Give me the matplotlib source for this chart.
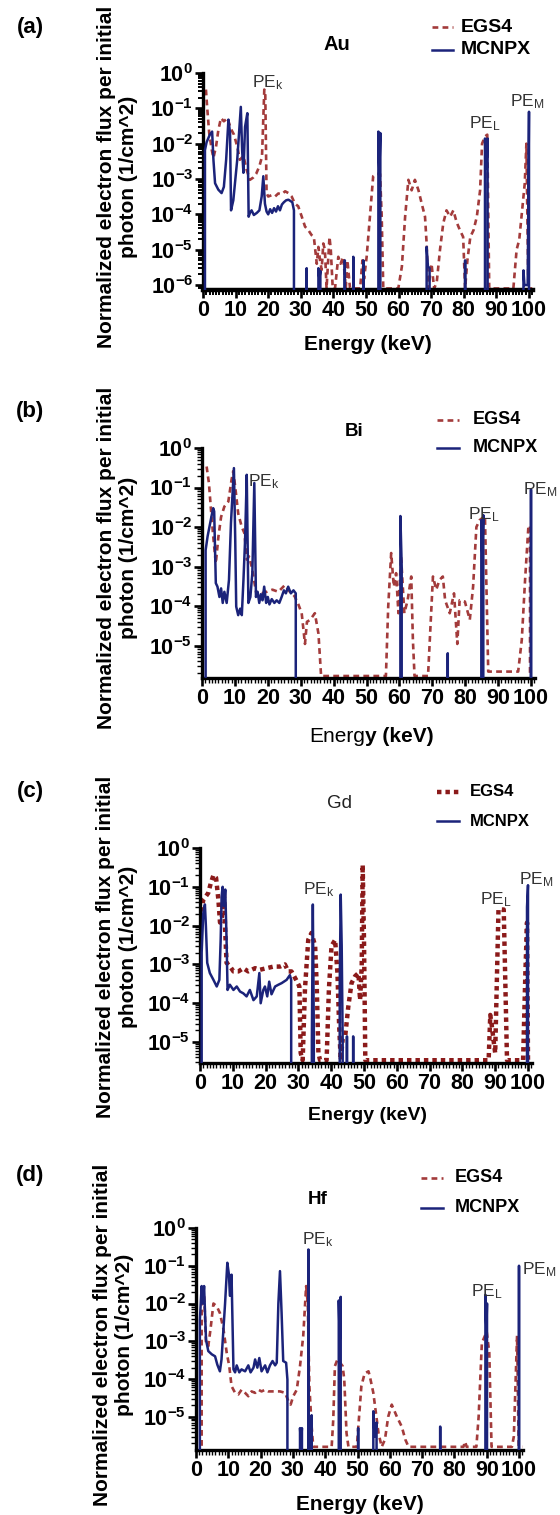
import numpy as np
import matplotlib
matplotlib.use('Agg')
import matplotlib.pyplot as plt
from matplotlib.lines import Line2D
from matplotlib.ticker import MultipleLocator, FixedLocator, LogLocator, FuncFormatter, NullFormatter

plt.rcParams['font.family'] = ['Liberation Sans', 'DejaVu Sans']
plt.rcParams['mathtext.fontset'] = 'custom'
plt.rcParams['mathtext.rm'] = 'Liberation Sans'
plt.rcParams['mathtext.it'] = 'Liberation Sans'
plt.rcParams['mathtext.bf'] = 'Liberation Sans:bold'

# ---------------- data (energy keV, flux 1/cm^2 per photon; 0 = no flux) ----------------
X_TICKS = list(range(0, 101, 10))
SERIES_LABELS = ['EGS4', 'MCNPX']
PANEL_LABELS = ['(a)', '(b)', '(c)', '(d)']
ELEMENTS = ['Au', 'Bi', 'Gd', 'Hf']

AU_EGS4 = np.array([
    (0.9, 0.34), (1.3, 0.1), (1.9, 2e-2), (2.7, 6.6e-3), (3.2, 4e-3), (4.0, 8.3e-3), (4.7, 2.4e-2),
    (5.5, 5.3e-2), (6.4, 4.3e-2), (7.5, 5.3e-2), (8.5, 2.7e-2), (9.5, 1.8e-2), (10.5, 8.3e-3),
    (11.3, 3.5e-3), (12.4, 4.5e-3), (13.4, 1.8e-3), (14.4, 9.5e-4), (15.4, 1.1e-3), (16.3, 1.4e-3),
    (17.3, 2.3e-3), (18.1, 4.3e-3), (18.8, 0.34), (19.1, 0.27), (19.5, 4e-4), (20.0, 3.2e-4),
    (21.1, 3.5e-4), (22.1, 3.2e-4), (23.1, 3.9e-4), (24.1, 3.7e-4), (25.2, 4.5e-4), (26.2, 4e-4),
    (27.2, 3.2e-4), (28.2, 2e-4), (29.2, 1.7e-4), (30.3, 8.6e-5), (31.3, 4.5e-5), (32.3, 3.6e-5),
    (33.3, 2.6e-5), (34.0, 2.3e-5), (34.9, 4e-6), (35.4, 1.2e-5), (35.9, 5e-6), (36.4, 2.7e-6),
    (36.9, 1.5e-5), (37.4, 1e-5), (37.9, 8e-7), (38.8, 2.3e-5), (39.2, 1e-5), (39.8, 8e-7),
    (40.5, 8e-7), (41.5, 6.3e-6), (42.2, 4e-6), (43.0, 6.3e-6), (43.8, 8e-7), (44.3, 5e-6),
    (45.1, 8e-7), (48.2, 8e-7), (48.9, 5e-6), (49.4, 1.5e-6), (50.2, 6.3e-6), (51.2, 8.6e-5),
    (52.2, 1.2e-3), (53.3, 1.4e-3), (54.3, 1.4e-3), (54.8, 1e-4), (55.3, 8e-7), (59.9, 8e-7),
    (61.0, 3.3e-6), (62.0, 8.6e-5), (63.0, 9.5e-4), (64.0, 4.8e-4), (65.0, 9.5e-4), (66.1, 4.8e-4),
    (67.1, 2e-4), (68.1, 8.6e-5), (68.6, 1.5e-5), (69.1, 8e-7), (70.1, 4e-6), (70.9, 8e-7),
    (71.7, 1.2e-6), (72.7, 1e-5), (73.7, 5.6e-5), (74.7, 1.3e-4), (75.8, 8.6e-5), (76.8, 1.3e-4),
    (77.8, 6e-5), (78.8, 3.6e-5), (79.8, 2.3e-5), (80.4, 8e-7), (81.1, 5e-6), (82.0, 2.3e-5),
    (83.0, 3.6e-5), (84.0, 8.6e-5), (85.0, 4.8e-4), (85.6, 1e-2), (86.5, 1.6e-2), (87.2, 1.8e-2),
    (87.8, 8e-7), (95.2, 8e-7), (96.2, 1e-5), (97.0, 1.9e-5), (97.7, 8.6e-5), (98.7, 7.6e-4),
    (99.2, 1e-2), (99.8, 8e-7), (101.0, 8e-7)])

AU_MCNPX = np.array([
    (0.4, 0), (0.6, 6.6e-3), (1.1, 1.1e-2), (2.1, 1.8e-2), (2.8, 2.2e-2), (3.2, 3.5e-3), (3.7, 7.6e-4),
    (4.7, 5e-4), (5.7, 4e-4), (6.4, 6e-4), (7.1, 3.5e-3), (7.8, 4.8e-2), (8.3, 2e-2), (8.6, 1.3e-4),
    (9.3, 2.5e-4), (10.5, 3.5e-3), (11.6, 0.11), (12.0, 6.6e-3), (12.4, 1.5e-3), (12.9, 3e-2),
    (13.6, 7.3e-2), (14.0, 8.6e-5), (14.4, 1.1e-4), (14.9, 1.3e-4), (15.6, 9.6e-5), (16.5, 1.1e-4),
    (17.3, 1.3e-4), (18.0, 3.2e-4), (18.5, 1.2e-3), (19.0, 2e-4), (19.5, 1.2e-4), (20.0, 1e-4),
    (20.6, 1.4e-4), (21.2, 1.1e-4), (21.8, 1.5e-4), (22.4, 1.2e-4), (23.0, 1.7e-4), (23.6, 1.3e-4),
    (24.2, 1.9e-4), (24.8, 2.2e-4), (25.5, 2.5e-4), (26.2, 2.6e-4), (26.8, 2.4e-4), (27.4, 2.2e-4),
    (27.9, 1.3e-4), (28.4, 0), (31.5, 0), (31.8, 3e-6), (32.1, 0), (35.1, 0), (35.4, 3e-6),
    (35.7, 1.5e-6), (36.0, 2.5e-6), (36.3, 0), (43.2, 0), (43.5, 5e-6), (43.8, 0), (45.8, 0),
    (46.1, 6.3e-6), (46.4, 0), (48.9, 0), (49.2, 5e-6), (49.5, 0), (53.3, 0), (53.8, 2.2e-2),
    (54.1, 1.5e-3), (54.4, 2e-2), (54.8, 0), (68.3, 0), (68.6, 1.2e-5), (69.0, 3.4e-6),
    (69.5, 3e-6), (70.0, 0), (80.1, 0), (80.4, 5e-6), (80.7, 0), (86.0, 0), (86.5, 1.4e-2),
    (86.9, 2e-3), (87.3, 1.4e-2), (87.7, 0), (98.0, 0), (98.3, 2.6e-6), (98.6, 1e-6),
    (99.6, 1e-6), (100.0, 8e-2), (100.3, 0)])

BI_EGS4 = np.array([
    (1.4, 0.34), (2.1, 0.13), (2.9, 1.8e-2), (3.5, 4.8e-3), (4.2, 1.2e-3), (5.0, 5.8e-3), (5.8, 1.8e-2),
    (6.8, 3.3e-2), (8.0, 4.4e-2), (9.0, 0.16), (9.5, 0.26), (10.2, 8.8e-2), (11.0, 2.2e-2),
    (12.1, 1e-2), (12.9, 7e-3), (13.6, 1.5e-3), (14.3, 1.8e-3), (15.1, 1e-3), (15.8, 4.6e-4),
    (16.6, 1.9e-4), (18.1, 2.1e-4), (19.7, 2.3e-4), (21.4, 2.6e-4), (23.2, 2.3e-4), (25.2, 3.4e-4),
    (26.7, 2.3e-4), (28.1, 1.8e-4), (29.3, 1.1e-4), (30.3, 6.6e-5), (31.3, 1.1e-5), (31.9, 4e-5),
    (32.9, 4.5e-5), (34.3, 6.6e-5), (35.4, 2e-5), (36.2, 1.7e-6), (55.9, 1.7e-6), (56.6, 9.7e-5),
    (57.5, 2.2e-3), (58.3, 3.1e-4), (59.0, 6.8e-4), (59.7, 6.6e-5), (60.5, 1.8e-3), (61.5, 6.6e-5),
    (62.5, 1.4e-4), (63.6, 5.6e-4), (64.1, 1.4e-5), (64.6, 1.7e-6), (68.7, 1.7e-6), (70.2, 5.6e-4),
    (71.2, 2.6e-4), (72.2, 4.6e-4), (73.2, 5.6e-4), (73.9, 1.4e-4), (75.3, 6.6e-5), (76.6, 2.1e-4),
    (77.6, 1.1e-5), (78.3, 1.4e-4), (79.9, 1.3e-4), (81.4, 4.5e-5), (82.4, 3.1e-4), (83.4, 1e-2),
    (84.4, 1.5e-2), (86.0, 1.9e-2), (87.0, 2.2e-6), (96.1, 2.2e-6), (97.2, 1.4e-5), (98.2, 4.6e-4),
    (99.2, 1e-2), (99.7, 1.1e-2), (100.0, 0)])

BI_MCNPX = np.array([
    (0.7, 0), (1.1, 2.6e-3), (1.7, 5.8e-3), (2.9, 1.9e-2), (3.4, 3e-2), (3.7, 2.5e-2), (4.2, 3.8e-4),
    (4.7, 3.1e-4), (5.3, 1.7e-4), (5.8, 2.8e-4), (6.3, 1.2e-4), (6.8, 2.3e-4), (7.5, 1.2e-4),
    (8.2, 4.6e-4), (8.8, 1.25e-2), (9.7, 0.31), (10.1, 4.8e-3), (10.4, 9.7e-5), (11.0, 5.9e-5),
    (11.6, 8.6e-5), (12.1, 5.9e-5), (12.6, 4.6e-4), (13.1, 4.8e-3), (13.6, 0.21), (14.1, 1.2e-4),
    (14.7, 1.7e-4), (15.3, 6.8e-4), (15.9, 0.13), (16.4, 1.7e-4), (16.9, 2.3e-4), (17.4, 1.2e-4),
    (17.9, 2e-4), (18.4, 1.4e-4), (18.9, 3.1e-4), (19.5, 1.2e-4), (20.0, 1.7e-4), (20.5, 1.1e-4),
    (21.2, 1.5e-4), (22.0, 1.2e-4), (22.7, 1.4e-4), (23.5, 1.2e-4), (24.2, 1.7e-4), (24.9, 2.5e-4),
    (25.5, 2.1e-4), (26.2, 3.1e-4), (27.0, 2.1e-4), (27.8, 2.5e-4), (28.5, 2.1e-4), (28.8, 0),
    (59.8, 0), (60.3, 1.9e-2), (60.7, 1e-3), (61.0, 0), (74.4, 0), (74.7, 6.4e-6), (75.0, 0),
    (84.6, 0), (84.9, 1.5e-2), (85.2, 2e-3), (85.5, 2e-2), (85.8, 0), (99.7, 0), (100.0, 9e-2),
    (100.2, 0)])

GD_EGS4 = np.array([
    (0.5, 2.3e-2), (1.0, 4.7e-2), (1.8, 5.7e-2), (2.5, 6.9e-2), (3.3, 0.125), (4.1, 0.2), (4.9, 0.17),
    (5.6, 4.7e-2), (6.1, 1.2e-2), (6.7, 1.7e-2), (7.3, 6.9e-2), (7.7, 6.5e-3), (8.1, 1.1e-3),
    (9.1, 9e-4), (10.2, 6.6e-4), (11.7, 6.6e-4), (13.2, 8e-4), (14.7, 6.6e-4), (16.8, 8e-4),
    (18.3, 7.3e-4), (20.3, 8e-4), (22.4, 8.8e-4), (24.4, 8.8e-4), (25.9, 1e-3), (26.9, 6.6e-4),
    (27.9, 6.6e-4), (29.3, 4e-4), (30.3, 2.7e-4), (30.7, 5.2e-6), (31.3, 3.4e-6), (32.0, 2.3e-4),
    (33.0, 4.3e-3), (34.0, 6.5e-3), (35.1, 3e-3), (35.6, 2.7e-4), (36.1, 5.2e-6), (36.6, 3.4e-6),
    (38.6, 3.4e-6), (39.3, 2.3e-4), (40.1, 3e-3), (41.2, 4.3e-3), (41.9, 6e-4), (42.4, 3e-5),
    (42.9, 3.4e-6), (43.5, 1.2e-5), (44.3, 1.5e-5), (45.2, 8e-5), (46.2, 3.3e-4), (47.3, 5e-4),
    (48.3, 6e-4), (48.8, 1.2e-4), (49.3, 9e-4), (49.6, 0.37), (50.0, 4.3e-3), (50.4, 3.4e-6),
    (88.0, 3.4e-6), (88.5, 5e-5), (89.0, 2.5e-5), (89.5, 1.1e-5), (90.0, 5.2e-6), (91.0, 2.6e-2),
    (92.6, 2.6e-2), (93.6, 3.4e-6), (98.5, 3.4e-6), (99.2, 6e-4), (99.7, 1.2e-2), (100.0, 3.4e-6),
    (101.0, 3.4e-6)])

GD_MCNPX = np.array([
    (0.2, 0), (0.5, 2e-3), (1.0, 2.1e-2), (1.5, 3.5e-2), (1.8, 9.6e-3), (2.2, 1.1e-3), (3.0, 6e-4),
    (4.1, 4e-4), (5.1, 2.7e-4), (5.9, 4e-4), (6.3, 4.3e-3), (6.6, 5.7e-2), (6.9, 0.1), (7.3, 3.2e-2),
    (7.7, 8.5e-2), (8.1, 4.3e-3), (8.4, 2.2e-4), (9.1, 3e-4), (10.2, 2.2e-4), (11.2, 2.7e-4),
    (12.2, 2e-4), (13.2, 1.8e-4), (14.2, 1.5e-4), (15.2, 2.2e-4), (16.3, 1.2e-4), (17.3, 1.5e-4),
    (18.1, 6e-4), (18.5, 1e-4), (19.3, 2.2e-4), (19.8, 2.7e-4), (20.5, 1.5e-4), (21.1, 3.6e-4),
    (21.8, 1.7e-4), (22.9, 2.7e-4), (23.9, 3e-4), (24.9, 3.3e-4), (26.4, 4e-4), (27.4, 5.3e-4),
    (27.8, 4e-4), (28.3, 0), (33.8, 0), (34.1, 1e-5), (34.4, 3.5e-2), (34.7, 2e-5), (35.0, 0),
    (42.3, 0), (42.6, 3e-4), (42.9, 6.3e-2), (43.2, 3e-3), (43.5, 1e-5), (43.8, 0), (44.6, 0),
    (44.8, 1.4e-5), (45.0, 0), (46.5, 0), (46.7, 1.4e-5), (46.9, 0), (99.4, 0), (99.7, 3e-2),
    (100.0, 0.11), (100.2, 0)])

HF_EGS4 = np.array([
    (1.5, 0), (1.75, 2.9e-2), (2.5, 1.9e-2), (3.1, 9e-4), (3.8, 7.4e-4), (4.5, 2.1e-3), (5.4, 1e-2),
    (6.4, 8.5e-3), (7.4, 5.6e-3), (8.5, 2.1e-3), (9.5, 5e-4), (10.3, 2.2e-4), (11.0, 6.5e-5),
    (12.1, 4.3e-5), (13.1, 3.9e-5), (14.1, 5.2e-5), (15.2, 4.3e-5), (16.2, 3.5e-5), (17.2, 4.7e-5),
    (18.3, 4.3e-5), (19.3, 5.2e-5), (20.3, 4.7e-5), (21.4, 5.2e-5), (22.4, 4.7e-5), (23.9, 4.7e-5),
    (26.0, 4.7e-5), (27.6, 4.3e-5), (28.6, 2.6e-5), (29.3, 2.1e-5), (30.1, 3.5e-5), (31.2, 5.2e-5),
    (32.2, 2.2e-4), (33.2, 1.4e-3), (34.1, 2.9e-2), (34.6, 1e-2), (35.1, 6.5e-5), (35.8, 5.6e-6),
    (36.3, 1.6e-6), (42.0, 1.6e-6), (42.5, 8.6e-6), (43.0, 2.2e-4), (43.8, 3.3e-4), (44.6, 2.7e-4),
    (45.4, 2.2e-4), (45.9, 9.7e-5), (46.6, 3.7e-6), (47.2, 1.6e-6), (49.8, 1.6e-6), (50.4, 8e-6),
    (51.2, 6.5e-5), (52.2, 1.4e-4), (53.4, 1.6e-4), (53.8, 1.2e-4), (54.9, 4.3e-5), (56.0, 8e-6),
    (56.5, 3.7e-6), (57.5, 1.6e-6), (58.5, 2.5e-6), (59.5, 1e-5), (60.6, 2.1e-5), (62.2, 1e-5),
    (63.7, 5.5e-6), (64.8, 2.5e-6), (65.8, 1.6e-6), (82.8, 1.6e-6), (83.3, 2.2e-6), (83.8, 1.6e-6),
    (86.8, 1.6e-6), (87.5, 1e-5), (88.5, 9e-4), (90.0, 1.8e-3), (90.8, 5e-4), (91.5, 1.6e-6),
    (97.8, 1.6e-6), (98.4, 3e-6), (99.4, 1.4e-3), (99.9, 1.6e-6), (101.0, 1.6e-6)])

HF_MCNPX = np.array([
    (0.7, 0), (1.2, 3.7e-3), (1.75, 2.9e-2), (2.1, 1e-2), (2.5, 2.9e-2), (3.1, 1.1e-3), (3.8, 5.5e-4),
    (4.9, 4.5e-4), (5.9, 4e-4), (6.6, 2.4e-4), (7.4, 1.6e-4), (7.9, 3.3e-4), (9.0, 1e-2), (9.7, 0.12),
    (10.2, 5.8e-2), (10.5, 1.6e-2), (11.0, 5.8e-2), (11.6, 1.8e-4), (12.1, 1.5e-4), (12.6, 2.3e-4),
    (13.4, 1.5e-4), (14.1, 1.8e-4), (15.2, 1.6e-4), (16.2, 2.3e-4), (16.9, 1.5e-4), (17.8, 2e-4),
    (18.3, 3.3e-4), (19.0, 2e-4), (19.6, 3.6e-4), (20.3, 1.6e-4), (21.4, 2.3e-4), (22.1, 1.5e-4),
    (22.9, 2.3e-4), (23.7, 3e-4), (24.5, 2.3e-4), (25.0, 2.7e-4), (25.5, 1e-2), (26.0, 7.2e-2),
    (26.5, 5.6e-3), (27.0, 3e-4), (27.9, 2.7e-4), (28.3, 9.7e-5), (28.7, 0), (31.9, 0), (32.2, 5e-6),
    (32.5, 2e-6), (32.8, 5e-6), (33.1, 0), (34.4, 0), (34.8, 0.27), (35.1, 0), (35.5, 0),
    (35.8, 1.1e-5), (36.1, 0), (43.9, 0), (44.2, 1.2e-2), (44.5, 1e-3), (44.8, 1.5e-2), (45.2, 0),
    (49.9, 0), (50.2, 5e-6), (50.5, 0), (54.6, 0), (54.9, 1.4e-5), (55.3, 3e-6), (55.9, 7e-6),
    (56.2, 0), (75.3, 0), (75.6, 5.5e-6), (75.9, 0), (89.3, 0), (89.6, 1.7e-2), (89.9, 2e-3),
    (90.1, 1e-2), (90.4, 0), (99.6, 0), (100.0, 0.1), (100.3, 0)])

EGS4_DATA = [AU_EGS4, BI_EGS4, GD_EGS4, HF_EGS4]
MCNPX_DATA = [AU_MCNPX, BI_MCNPX, GD_MCNPX, HF_MCNPX]
Y_DECADES = [[-6, -5, -4, -3, -2, -1, 0], [-5, -4, -3, -2, -1, 0],
             [-5, -4, -3, -2, -1, 0], [-5, -4, -3, -2, -1, 0]]

# ---------------- layout (pixels) ----------------
W, H = 560, 1515
fig = plt.figure(figsize=(W / 100, H / 100), dpi=100)

def fx(x):
    return x / W

def fy(y):
    return 1 - y / H

def ftext(x, y, s, **kw):
    return fig.text(fx(x), fy(y), s, **kw)

RED = '#a33b3b'
RED_C = '#8b1a1a'
BLUE = '#1b237a'

# left px, px per keV, top px, bottom px, y-bottom limit
AX_GEOM = [
    (203, 3.26, 73, 290, 10 ** -6.14),
    (202, 3.29, 448, 678, 10 ** -5.82),
    (200, 3.28, 848, 1063, 10 ** -5.54),
    (196, 3.23, 1228, 1450, 10 ** -5.88),
]
XMAX = 101.2

TEXT_GEOM = [
    dict(pl=27, yl=(118, 177), title=(337, 45, 'bold', 14.5), leg=(27, 50, 432, 453, 461, 14, 'bold'),
         xl=(368, 344, 'bold', 15), pe=[(268, 83), (485, 124), (527, 102)]),
    dict(pl=412, yl=(118, 558), title=(354, 432, 'bold', 13.5), leg=(420, 448, 437, 459, 473, 13, 'bold'),
         xl=(370, 737, 'mixed', 15), pe=[(264, 482), (484, 515), (540, 490)]),
    dict(pl=792, yl=(117, 947), title=(340, 804, 'normal', 13.5), leg=(792, 821, 437, 459, 470, 12, 'bold'),
         xl=(367, 1115, 'bold', 14), pe=[(319, 890), (496, 900), (536, 880)]),
    dict(pl=1175, yl=(114, 1335), title=(318, 1200, 'bold', 13.5), leg=(1178, 1208, 421, 443, 455, 13, 'bold'),
         xl=(360, 1504, 'bold', 15), pe=[(318, 1240), (487, 1292), (539, 1270)]),
]
PE_TEXTS = [r'PE$_{\mathrm{k}}$', r'PE$_{\mathrm{L}}$', r'PE$_{\mathrm{M}}$']

def dec_fmt(v, pos):
    return r'$\mathbf{10^{%d}}$' % int(round(np.log10(v)))

for i in range(4):
    left, sc, top, bot, ylow = AX_GEOM[i]
    right = left + XMAX * sc
    ax = fig.add_axes([fx(left), fy(bot), (right - left) / W, (bot - top) / H])
    eg = EGS4_DATA[i]
    mc = MCNPX_DATA[i]
    if i == 2:
        l_e, = ax.plot(eg[:, 0], eg[:, 1], color=RED_C, lw=3.2, dashes=(1.0, 0.9), zorder=2)
    else:
        l_e, = ax.plot(eg[:, 0], eg[:, 1], color=RED, lw=1.9, dashes=(2.2, 1.6), zorder=2)
    l_m, = ax.plot(mc[:, 0], mc[:, 1], color=BLUE, lw=1.8, zorder=3)
    ax.set_yscale('log')
    ax.set_xlim(0, XMAX)
    ax.set_ylim(ylow, 1.0)
    for s in ['top', 'right']:
        ax.spines[s].set_visible(False)
    ax.spines['left'].set_linewidth(2.4)
    ax.spines['bottom'].set_linewidth(3.2 if i == 0 else 2.4)
    ax.xaxis.set_major_locator(FixedLocator(X_TICKS))
    ax.xaxis.set_minor_locator(MultipleLocator(1))
    ax.yaxis.set_major_locator(FixedLocator([10.0 ** d for d in Y_DECADES[i]]))
    ax.yaxis.set_minor_locator(LogLocator(base=10, subs=np.arange(2, 10), numticks=20))
    ax.yaxis.set_minor_formatter(NullFormatter())
    ax.yaxis.set_major_formatter(FuncFormatter(dec_fmt))
    ax.tick_params(axis='both', which='major', direction='out', length=5.5, width=1.9,
                   labelsize=15.5, pad=1.5)
    ax.tick_params(axis='both', which='minor', direction='out', length=3.5,
                   width=1.4 if i == 0 else 1.0)
    for lab in ax.get_xticklabels():
        lab.set_fontweight('bold')
    for lab in ax.get_yticklabels():
        lab.set_fontweight('bold')

    tg = TEXT_GEOM[i]
    ftext(30, tg['pl'], PANEL_LABELS[i], fontsize=16, fontweight='bold', ha='center', va='center')
    ftext(tg['yl'][0], tg['yl'][1], 'Normalized electron flux per initial\nphoton (1/cm^2)',
          rotation=90, fontsize=15, fontweight='bold', ha='center', va='center',
          multialignment='center', linespacing=1.2)
    tx, ty, tw, ts = tg['title']
    ftext(tx, ty, ELEMENTS[i], fontsize=ts, fontweight=tw, ha='center', va='center',
          color='#222222' if tw == 'normal' else 'black')
    y1, y2, h0, h1, ltx, lsz, lw_ = tg['leg']
    for yy, ref, lab in [(y1, l_e, SERIES_LABELS[0]), (y2, l_m, SERIES_LABELS[1])]:
        ln = Line2D([fx(h0), fx(h1)], [fy(yy), fy(yy)], transform=fig.transFigure,
                    color=ref.get_color(), lw=ref.get_linewidth(), linestyle=ref.get_linestyle())
        if ref is l_e:
            ln.set_dashes((2.2, 1.6) if i != 2 else (1.0, 0.9))
        fig.add_artist(ln)
        ftext(ltx, yy, lab, fontsize=lsz, fontweight=lw_, ha='left', va='center')
    xlx, xly, xlw, xls = tg['xl']
    if xlw == 'mixed':
        ftext(xlx - 5, xly, 'Energ', fontsize=xls, fontweight='normal', ha='right', va='center')
        ftext(xlx - 5, xly, 'y (keV)', fontsize=xls, fontweight='bold', ha='left', va='center')
    else:
        ftext(xlx, xly, 'Energy (keV)', fontsize=xls, fontweight=xlw, ha='center', va='center')
    for (px, py), s in zip(tg['pe'], PE_TEXTS):
        ftext(px, py, s, fontsize=12.5, ha='center', va='center', color='#333333')

fig.savefig('out.png', dpi=100)
